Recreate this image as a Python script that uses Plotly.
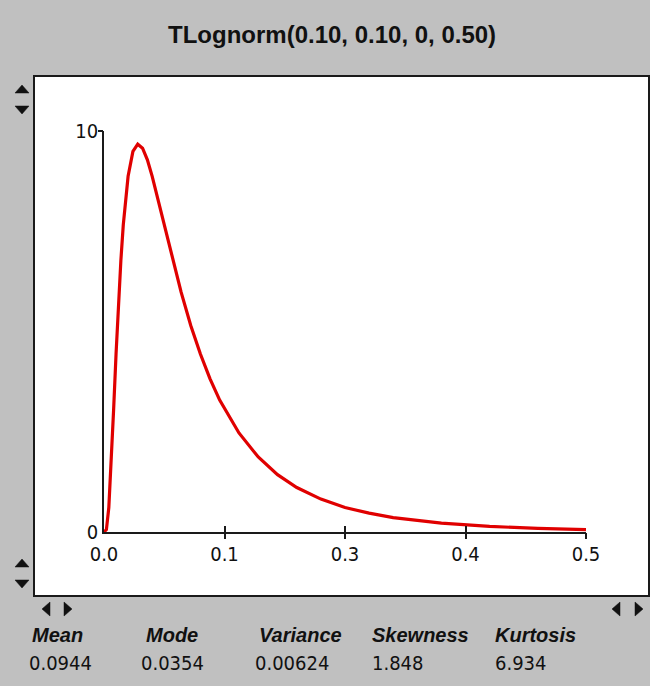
import plotly.graph_objects as go

W, H = 650, 686

# ---- data ----
title_text = "TLognorm(0.10, 0.10, 0, 0.50)"
x_vals = [0, 0.0025, 0.005, 0.0075, 0.01, 0.0125, 0.015, 0.0175, 0.02, 0.025, 0.03,
          0.035, 0.04, 0.045, 0.05, 0.06, 0.07, 0.08, 0.09, 0.10, 0.11, 0.12, 0.14,
          0.16, 0.18, 0.20, 0.225, 0.25, 0.275, 0.30, 0.35, 0.40, 0.45, 0.50]
y_vals = [0, 0.06, 0.61, 1.71, 3.06, 4.44, 5.69, 6.77, 7.66, 8.87, 9.49,
          9.67, 9.57, 9.28, 8.87, 7.91, 6.91, 5.98, 5.15, 4.44, 3.82, 3.29, 2.47,
          1.87, 1.43, 1.11, 0.82, 0.61, 0.47, 0.36, 0.22, 0.14, 0.09, 0.06]
x_tickvals = [0, 0.125, 0.25, 0.375, 0.5]
x_ticktext = ["0.0", "0.1", "0.3", "0.4", "0.5"]
y_tickvals = [0, 10]
y_ticktext = ["0", "10"]
stat_names = ["Mean", "Mode", "Variance", "Skewness", "Kurtosis"]
stat_values = ["0.0944", "0.0354", "0.00624", "1.848", "6.934"]


def X(px):
    return px / W


def Y(py):
    return 1 - py / H


axis_color = "#1a1a1a"
narrow = "Liberation Sans Narrow, Arial Narrow, DejaVu Sans Condensed, sans-serif"

fig = go.Figure()
fig.add_trace(go.Scatter(x=x_vals, y=y_vals, mode="lines",
                         line=dict(color="#e00000", width=3.2), hoverinfo="skip",
                         showlegend=False))
# invisible trace for overlay axes (outside half of the crossing ticks)
fig.add_trace(go.Scatter(x=[None], y=[None], xaxis="x2", yaxis="y2",
                         mode="lines", showlegend=False, hoverinfo="skip"))

xdom = [X(104), X(586)]
ydom = [Y(532), Y(131)]
common = dict(showgrid=False, zeroline=False, fixedrange=True, automargin=False)

fig.update_layout(
    template="none",
    width=W, height=H,
    autosize=False,
    margin=dict(l=0, r=0, t=0, b=0, pad=0, autoexpand=False),
    paper_bgcolor="#c0c0c0",
    plot_bgcolor="white",
    showlegend=False,
    xaxis=dict(domain=xdom, range=[0, 0.5], tickvals=x_tickvals, ticktext=x_ticktext,
               ticks="inside", ticklen=6, tickwidth=1.5, tickcolor=axis_color,
               ticklabelstandoff=3,
               showline=True, linecolor=axis_color, linewidth=1.5,
               tickfont=dict(family=narrow, size=20, color="#111"), **common),
    yaxis=dict(domain=ydom, range=[0, 10], tickvals=y_tickvals, ticktext=y_ticktext,
               ticks="inside", ticklen=5, tickwidth=1.5, tickcolor=axis_color,
               ticklabelstandoff=0,
               showline=True, linecolor=axis_color, linewidth=1.5,
               tickfont=dict(family=narrow, size=20, color="#111"), **common),
    xaxis2=dict(domain=xdom, range=[0, 0.5], overlaying="x", anchor="y2",
                tickvals=x_tickvals[1:], ticks="outside", ticklen=6, tickwidth=1.5,
                tickcolor=axis_color, showticklabels=False, showline=False, **common),
    yaxis2=dict(domain=ydom, range=[0, 10], overlaying="y", anchor="x2",
                tickvals=y_tickvals[1:], ticks="outside", ticklen=5, tickwidth=1.5,
                tickcolor=axis_color, showticklabels=False, showline=False, **common),
)

shapes = []
# white frame
shapes.append(dict(type="rect", xref="paper", yref="paper", layer="below",
                   x0=X(34), x1=X(649), y0=Y(596), y1=Y(76),
                   fillcolor="white", line=dict(color="#1a1a1a", width=2)))


def tri(points):
    p = "M " + " L ".join(f"{X(a)},{Y(b)}" for a, b in points) + " Z"
    return dict(type="path", xref="paper", yref="paper", path=p,
                fillcolor="#111", line=dict(color="#111", width=0.5))


# vertical spinners (left)
for cy in (89, 563):
    shapes.append(tri([(15, cy + 4), (29, cy + 4), (22, cy - 4)]))
for cy in (110, 584):
    shapes.append(tri([(15, cy - 4), (29, cy - 4), (22, cy + 4)]))
# horizontal spinners (bottom)
for lx, rx in ((46, 68), (616, 639)):
    shapes.append(tri([(lx + 4, 602), (lx + 4, 616), (lx - 4, 609)]))
    shapes.append(tri([(rx - 4, 602), (rx - 4, 616), (rx + 4, 609)]))
fig.update_layout(shapes=shapes)

ann = [dict(text="<b>" + title_text + "</b>", x=X(332), y=Y(34), xref="paper", yref="paper",
            xanchor="center", yanchor="middle", showarrow=False,
            font=dict(family="Liberation Sans, Arial, sans-serif", size=24, color="#111"))]
name_x = [30, 144, 257, 370, 493]
val_x = [27, 139, 253, 370, 493]
for i, (n, v) in enumerate(zip(stat_names, stat_values)):
    ann.append(dict(text=f"<b><i>{n}</i></b>", x=X(name_x[i]), y=Y(635), xref="paper", yref="paper",
                    xanchor="left", yanchor="middle", showarrow=False,
                    font=dict(family="Liberation Sans, Arial, sans-serif", size=20, color="#111")))
    ann.append(dict(text=v, x=X(val_x[i]), y=Y(663), xref="paper", yref="paper",
                    xanchor="left", yanchor="middle", showarrow=False,
                    font=dict(family=narrow, size=20, color="#111")))
fig.update_layout(annotations=ann)

fig.write_html("out.html",
               post_script="document.body.style.margin='0';document.body.style.padding='0';")
